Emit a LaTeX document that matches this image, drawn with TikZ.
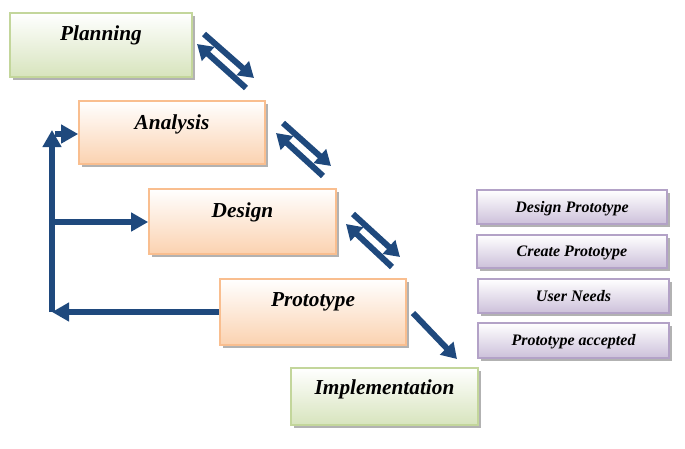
\documentclass[tikz,border=0pt]{standalone}
\usepackage{fontspec}
\setmainfont{Liberation Serif}
\usetikzlibrary{arrows.meta,shadows}
\definecolor{arr}{HTML}{1F497D}
\definecolor{gbd}{HTML}{C3D69B}
\definecolor{gfl}{HTML}{D7E4BD}
\definecolor{obd}{HTML}{F9BE8F}
\definecolor{ofl}{HTML}{FBD2B0}
\definecolor{pbd}{HTML}{B3A2C7}
\definecolor{pfl}{HTML}{CCC0DA}
\tikzset{
  basebox/.style={rectangle, inner sep=0pt, line width=1.6pt,
    drop shadow={shadow xshift=3pt, shadow yshift=-3pt, fill=black, opacity=0.3}},
  greenbox/.style={basebox, draw=gbd, top color=white, bottom color=gfl},
  orangebox/.style={basebox, draw=obd, top color=white, bottom color=ofl},
  purplebox/.style={basebox, draw=pbd, top color=white, bottom color=pfl,
    text height=10pt, text depth=0pt,
    font=\fontsize{16}{19}\selectfont\bfseries\itshape},
  bigtext/.style={font=\fontsize{21.3}{25}\selectfont\bfseries\itshape, inner sep=0pt},
  thick arrow/.style={draw=arr, line width=6pt, -{Triangle[width=18pt,length=15pt]}},
  fb/.style={draw=arr, line width=5.5pt},
  fbtip/.style={fb, -{Triangle[width=18pt,length=17pt]}},
}
\begin{document}
\begin{tikzpicture}[x=1pt,y=-1pt]
\useasboundingbox (0,0) rectangle (685,448);
% main boxes
\node[greenbox, minimum width=182pt, minimum height=64pt] (plan) at (101,45) {};
\node[bigtext] (plant) at (101,35) {Planning};
\node[orangebox, minimum width=186pt, minimum height=63pt] (ana) at (172,132.5) {};
\node[bigtext] (anat) at (172,124.5) {Analysis};
\node[orangebox, minimum width=187pt, minimum height=65pt] (des) at (242.5,221.5) {};
\node[bigtext] (dest) at (242.5,212.5) {Design};
\node[orangebox, minimum width=186pt, minimum height=66pt] (pro) at (313,312) {};
\node[bigtext] (prot) at (313,301.5) {Prototype};
\node[greenbox, minimum width=187pt, minimum height=57pt] (imp) at (384.5,396.5) {};
\node[bigtext] (impt) at (384.5,389.5) {Implementation};
% purple boxes
\node[purplebox, minimum width=190pt, minimum height=34pt] (p1) at (572,207) {Design Prototype};
\node[purplebox, minimum width=190pt, minimum height=33pt] (p2) at (572,251.5) {Create Prototype};
\node[purplebox, minimum width=191pt, minimum height=34pt] (p3) at (573.5,296) {User Needs};
\node[purplebox, minimum width=191pt, minimum height=35pt] (p4) at (573.5,340.5) {Prototype accepted};
% double arrows
\coordinate (a1s) at (246,88); \coordinate (a1e) at (197,44);
\coordinate (b1s) at (204,34); \coordinate (b1e) at (254,78);
\draw[thick arrow] (a1s) -- (a1e);
\draw[thick arrow] (b1s) -- (b1e);
\coordinate (a2s) at (323,176); \coordinate (a2e) at (276,133);
\coordinate (b2s) at (283,123); \coordinate (b2e) at (331,166);
\draw[thick arrow] (a2s) -- (a2e);
\draw[thick arrow] (b2s) -- (b2e);
\coordinate (a3s) at (392,267); \coordinate (a3e) at (346,224);
\coordinate (b3s) at (353,214); \coordinate (b3e) at (400,257);
\draw[thick arrow] (a3s) -- (a3e);
\draw[thick arrow] (b3s) -- (b3e);
% prototype -> implementation
\coordinate (s1) at (413,313); \coordinate (s2) at (457,359);
\draw[thick arrow] (s1) -- (s2);
% feedback loop
\coordinate (c1) at (52,312);
\coordinate (c2) at (52,130);
\coordinate (c3) at (55,134);
\coordinate (c4) at (52,222);
\draw[fbtip] (pro.west) -- (c1);
\draw[fbtip] (c1) -- (c2);
\draw[fbtip] (c3) -- (c3 -| ana.west);
\draw[fbtip] (c4) -- (c4 -| des.west);
\end{tikzpicture}
\end{document}
